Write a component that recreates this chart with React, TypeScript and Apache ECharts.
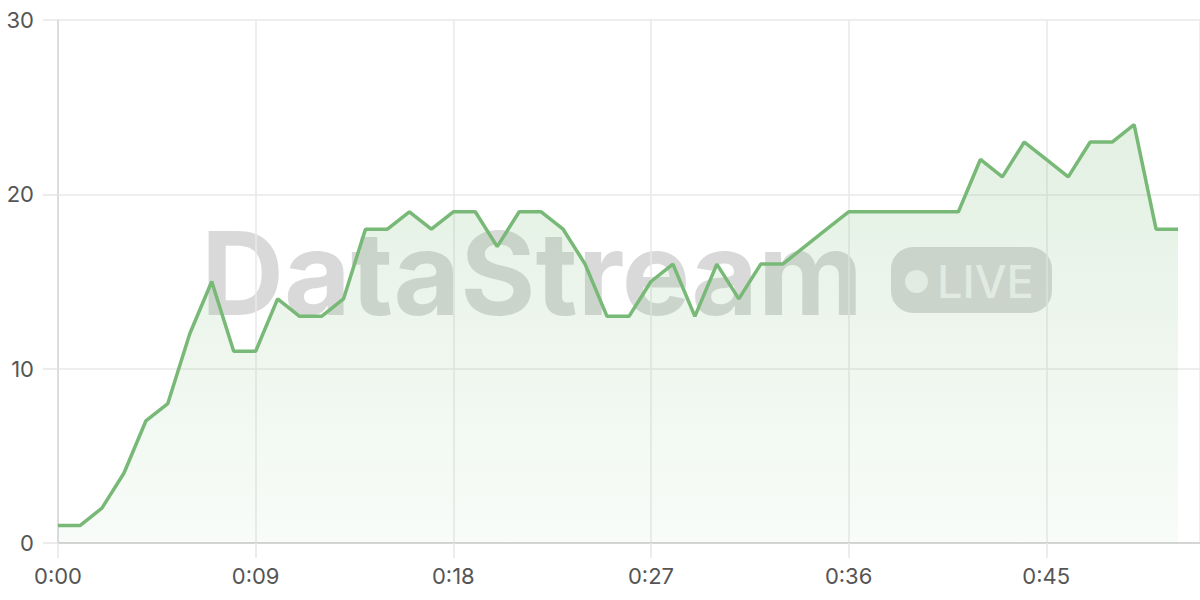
import React, { useEffect, useRef } from "react";
import * as echarts from "echarts";

const seconds = [0,1,2,3,4,5,6,7,8,9,10,11,12,13,14,15,16,17,18,19,20,21,22,23,24,25,26,27,28,29,30,31,32,33,34,35,36,37,38,39,40,41,42,43,44,45,46,47,48,49,50,51];
const values = [1,1,2,4,7,8,12,15,11,11,14,13,13,14,18,18,19,18,19,19,17,19,19,18,16,13,13,15,16,13,16,14,16,16,17,18,19,19,19,19,19,19,22,21,23,22,21,23,23,24,18,18];
const yTicks = [0, 10, 20, 30];
const watermark = "DataStream";
const badge = "LIVE";

const fmt = (v: number) => {
  const m = Math.floor(v / 60);
  const s = Math.round(v % 60);
  return m + ":" + (s < 10 ? "0" + s : "" + s);
};

export default function App() {
  const ref = useRef<HTMLDivElement>(null);
  useEffect(() => {
    if (!ref.current) return;
    const chart = echarts.init(ref.current, undefined, { renderer: "svg" });
    const labelStyle = { color: "#555", fontSize: 22, fontFamily: "Inter" };
    chart.setOption({
      animation: false,
      grid: { left: 58, right: 0, top: 20, bottom: 57, containLabel: false },
      xAxis: {
        type: "value",
        min: 0,
        max: 52,
        interval: 9,
        axisLine: { show: true, lineStyle: { color: "#cccccc", width: 1.5 } },
        axisTick: { show: true, length: 15, lineStyle: { color: "#e6e6e6", width: 1.5 } },
        splitLine: { show: true, lineStyle: { color: "#e9e9e9", width: 1.5 } },
        axisLabel: { ...labelStyle, margin: 22, showMaxLabel: false, formatter: (v: number) => fmt(v) },
      },
      yAxis: {
        type: "value",
        min: yTicks[0],
        max: yTicks[yTicks.length - 1],
        interval: 10,
        axisLine: { show: true, lineStyle: { color: "#d6d6d6", width: 1.5 } },
        axisTick: { show: true, length: 15, lineStyle: { color: "#e6e6e6", width: 1.5 } },
        splitLine: { show: true, lineStyle: { color: "#e9e9e9", width: 1.5 } },
        axisLabel: { ...labelStyle, margin: 24 },
      },
      graphic: [
        {
          type: "text",
          z: 0,
          x: 201,
          y: 273,
          style: {
            text: watermark,
            font: "bold 115px Inter",
            fill: "rgba(0,0,0,0.15)",
            verticalAlign: "middle",
            align: "left",
          },
        },
        {
          type: "rect",
          z: 0,
          shape: { x: 891, y: 247, width: 161, height: 66, r: 22 },
          style: { fill: "rgba(0,0,0,0.15)" },
        },
        {
          type: "circle",
          z: 0,
          shape: { cx: 916.5, cy: 281.5, r: 11.5 },
          style: { fill: "rgba(255,255,255,0.7)" },
        },
        {
          type: "text",
          z: 0,
          x: 937,
          y: 281,
          style: {
            text: badge,
            font: "500 45px Inter",
            fill: "rgba(255,255,255,0.7)",
            verticalAlign: "middle",
            align: "left",
          },
        },
      ],
      series: [
        {
          type: "line",
          data: seconds.map((s, i) => [s, values[i]]),
          showSymbol: false,
          symbol: "none",
          lineStyle: { color: "#78b978", width: 3.5 },
          itemStyle: { color: "#78b978" },
          areaStyle: {
            color: new echarts.graphic.LinearGradient(0, 0, 0, 1, [
              { offset: 0, color: "rgba(120,185,120,0.30)" },
              { offset: 1, color: "rgba(120,185,120,0.07)" },
            ]),
          },
        },
      ],
    });
    return () => chart.dispose();
  }, []);
  return <div ref={ref} style={{ width: 1200, height: 600, position: "absolute", left: 0, top: 0 }} />;
}
